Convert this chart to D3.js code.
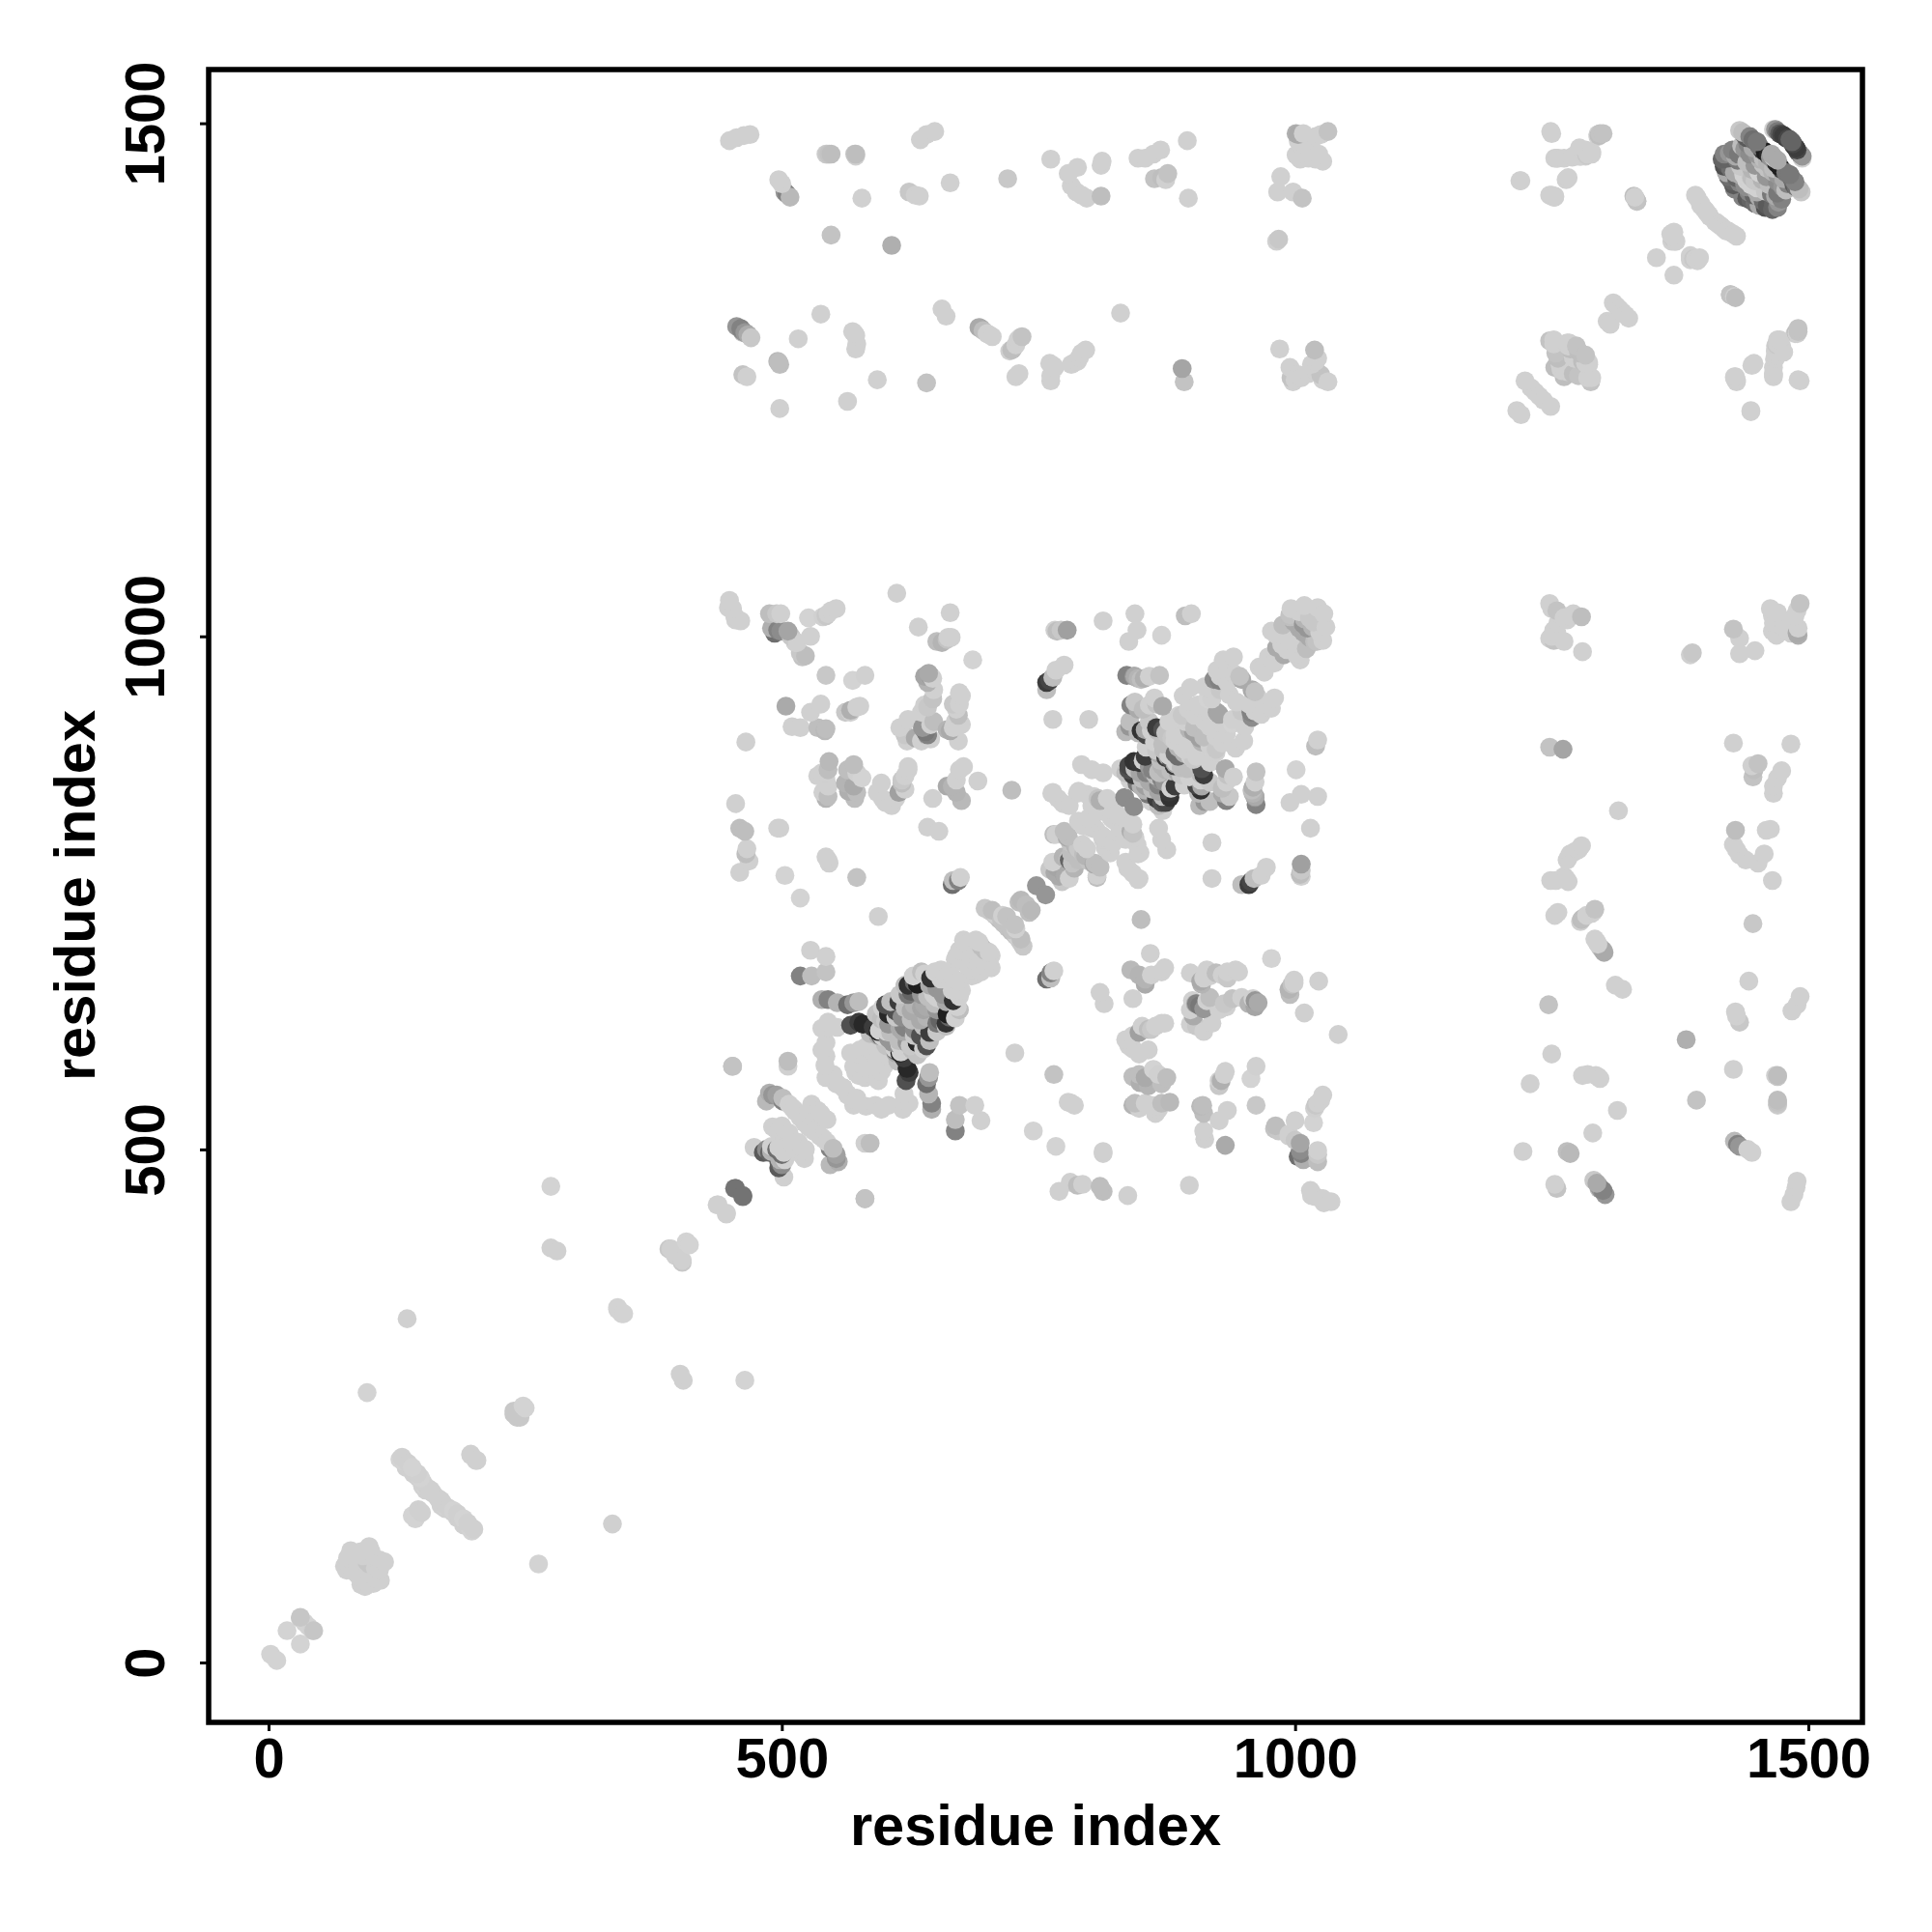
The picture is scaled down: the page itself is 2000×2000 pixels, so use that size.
<!DOCTYPE html>
<html><head><meta charset="utf-8">
<script src="https://cdn.jsdelivr.net/npm/d3@7"></script>
<style>html,body{margin:0;padding:0;background:#fff}svg{display:block}text{font-family:"Liberation Sans",Arial,sans-serif;font-weight:700;fill:#000}</style>
</head><body><svg id="c" width="2000" height="2000"></svg>
<script>
const xLabel = "residue index", yLabel = "residue index";
const tickValues = [0, 500, 1000, 1500];
const nTerminal = [[2,8,211],[18,31,211],[31,43,208],[35,39,211],[44,31,198],
[74,94,208],[77,102,208],[80,109,208],[84,88,208],[86,100,208],[92,104,208],[98,113,208],[100,108,208],[96,98,198],
[128,198,211],[132,196,211],[136,194,208],[140,190,211],[142,186,208],[145,184,208],[148,180,211],[150,176,208],[152,172,211],[155,170,208],[158,168,208],[160,165,208],[143,140,211],[146,149,208],
[197,203,208],[202,197,208],[239,242,200],[245,239,200],[248,250,211],[275,464,211],[135,335,208],[96,263,211],
[275,404,208],[281,401,208],[340,344,211],[346,340,211],[390,403,200],[396,397,208],[403,392,208],[410,407,211],[437,446,208],[446,438,208],[455,462,115],[462,454,120],
[130,200,208],[134,190,208],[141,184,208],[146,180,208],[150,172,208],[153,168,208],[78,95,208],[82,104,208],[90,108,208],[94,90,208],[76,90,208]];
const blockLeft = [[449,1035,208],[452,1027,208],[455,1016,208],[460,1015,208],[495,1022,200],[499,1022,208],[496,1006,130],[499,1005,140],[506,1005,165],[526,1018,211],[543,1020,200],[548,1025,208],[553,1027,208],[515,994,208],[528,1000,208],[520,980,195],[612,1042,208],[633,1009,208],[664,1023,208],[656,994,180],[661,997,195],[665,999,208],[686,977,211],
[543,962,200],[569,957,211],[581,962,208],[643,964,170],[645,961,150],[647,959,208],[647,939,195],[673,945,208],[673,934,208],[504,932,170],[528,926,208],[538,934,208],[518,911,208],[543,910,190],[567,926,208],[576,932,208],[465,897,208],[623,919,208],[620,904,200],[636,898,208],[642,903,170],[640,907,120],[645,914,208],[661,909,180],[667,911,208],[675,914,208],[672,898,208],[639,933,208],
[546,878,185],[542,867,208],[545,854,208],[545,844,190],[570,875,190],[570,854,170],[578,862,211],[571,842,190],[597,857,208],[598,842,208],[607,835,208],[620,851,208],[623,870,208],[614,848,160],[617,860,200],[673,870,208],[666,854,180],[691,859,208],[675,840,185],[647,842,208],[724,850,190],
[455,837,208],[464,810,190],[498,813,208],[465,788,190],[468,781,208],[459,770,208],[503,767,211],[545,782,208],[573,765,195],[518,745,211],[594,727,208],[642,814,208],[653,810,208],[672,762,130],[674,765,208]];
const blockLeftExtra = [[448,1028,208],[454,1020,208],[488,1022,190],[490,1008,175],[493,1003,110],[509,1000,200],[513,994,208],[518,984,200],[523,981,190],[540,1019,208],[545,1022,208],[651,995,190],[662,999,208],[768,1005,190],
[639,961,165],[642,955,180],[648,948,208],[636,926,208],[642,931,200],[637,911,150],[642,904,130],[645,900,208],[648,917,190],[670,929,208],[672,923,190],[667,934,200],[669,917,208],[664,908,170],[675,942,208],[615,911,208],[622,898,208],[630,901,170],
[539,867,208],[543,860,208],[540,848,208],[535,864,208],[545,870,190],[543,842,180],[564,870,190],[562,857,180],[565,849,175],[573,867,208],[573,848,190],[593,848,208],[601,838,208],[611,842,208],[617,857,190],[620,864,208],[623,873,208],[661,854,170],[670,860,208],[670,848,180],[677,873,208],
[496,813,208],[459,813,190],[466,793,208],[543,785,208],[546,779,208],[667,762,190],[666,758,110],[567,928,175],[573,931,208],[562,926,200],[535,911,190],[542,908,185],[510,912,208]];
const blockCross = [[766,1006,208],[772,1006,200],[778,1006,160],[813,1015,208],[844,1022,208],[838,995,208],[846,1006,208],[870,1001,211],[893,1020,190],[899,1022,208],
[758,955,60],[761,957,70],[764,960,190],[767,967,208],[775,972,208],[758,948,190],[764,919,208],[799,919,208],
[836,962,130],[843,961,150],[847,959,180],[853,959,175],[868,962,195],[840,933,130],[847,929,170],[863,940,208],[871,932,170],[891,942,208],[898,950,208],[839,912,150],[850,908,50],[855,904,70],[865,911,60],[871,909,80],[858,917,200],
[890,923,200],[902,923,208],[897,909,180],[907,901,160],[924,926,165],[915,939,211],[921,958,140],[934,970,208],[927,948,200],[948,958,170],[936,943,208],[926,957,130],[968,969,208],[982,989,170],[981,1002,208],[999,1014,170],[1008,1012,150],[1022,1028,208],[1004,1024,208],[995,1021,195],[983,1003,208],[995,1019,190],[880,901,200],[893,917,208],[883,898,208],[890,892,208],
[830,871,208],[792,875,208],[802,870,208],[813,867,208],[835,867,190],[838,874,70],[843,878,50],[848,877,55],[854,883,60],[838,870,80],[842,865,60],[846,857,120],[855,867,130],[860,868,140],[867,886,170],[874,882,60],[865,889,200],[880,879,80],[861,870,130],[850,854,180],[834,843,140],[858,859,170],[871,895,190],[883,886,110],[886,892,180],
[764,848,208],[774,837,208],[789,849,208],[808,842,195],[814,829,208],[821,823,208],[794,815,208],[802,813,208],[767,807,208],[778,804,170],[786,796,180],[794,788,190],[780,782,100],[767,776,170],[775,768,165],[783,779,195],[779,805,190],[765,807,190],[796,816,208],[810,840,175],[804,844,208],[788,847,208],[763,847,208]];
const blockCrossExtra = [[844,871,190],[852,879,208],[858,873,150],[865,864,190],[849,867,165],[839,860,208],[855,854,160],[861,851,190],[869,879,190],[877,884,208],[883,876,170],[874,870,180],[868,867,190],[855,892,208],[863,897,208],[872,889,190],
[847,906,185],[854,909,170],[860,908,208],[866,908,190],[874,906,195],[844,936,200],[852,929,190],[858,933,208],[865,934,195],[835,907,185],[839,917,190],[844,961,170],[850,958,190],[858,961,208],
[877,917,208],[887,923,208],[896,929,208],[905,933,208],[915,929,208],[883,904,208],[893,901,208],[902,911,190],[912,917,208],[919,939,208],[912,951,208],[918,948,208],[927,961,208],[924,967,208],[934,955,208],[940,964,208],[946,961,195],[930,977,208],[940,980,208],[965,970,208],[974,980,208],[977,1005,208],[987,992,208],[993,999,208],[988,1011,190],[996,1027,208],[1009,1030,208],[1018,1014,200],[1004,1008,170],[1009,1017,180],
[769,842,208],[780,835,208],[797,846,208],[802,835,208],[808,829,208],[817,842,208],[824,832,208],[830,823,208],[799,823,208],[806,812,208],[814,804,208],[789,820,208],[775,810,190],[781,799,195],[789,793,200],[797,793,208],[774,785,180],[789,782,190],[764,780,208],[761,773,200],[770,766,170]];
const midBand = [[748,757,150],[733,743,185],[738,738,190],[703,732,200],[708,728,195],[712,724,190],[716,720,195],[670,688,208],[680,700,208],[689,704,208],[680,692,208],[675,685,208],[685,695,208],[694,698,190],
[708,729,208],[714,724,195],[705,733,190],[698,735,200],[719,727,195],[728,715,208],[677,704,208],[684,702,208],[692,702,208],[673,694,208],[669,685,208],[686,685,208],[677,682,208],[661,669,208],[667,666,208],[655,675,208],[698,688,208],[731,741,190]];
const crossLow = [[528,694,208],[543,688,208],[518,669,130],[529,669,190],[543,673,195],[539,646,175],[545,646,130],[554,643,180],[564,641,110],[570,643,150],[575,644,190],[546,619,208],[567,621,80],[575,624,60],[579,622,40],[589,619,60],[597,627,190],
[604,632,70],[614,644,60],[623,660,50],[632,661,30],[629,663,100],[636,651,150],[645,667,50],[649,673,208],[651,657,150],[639,641,170],[629,641,180],[617,629,140],[611,635,80],[604,622,150],[620,619,130],[604,632,40],[594,615,30],[626,654,100],[642,649,190],[655,666,208],[664,672,208],[636,673,190],[623,651,120],[601,641,80],
[543,591,208],[543,604,208],[567,594,208],[576,597,208],[589,594,208],[574,579,208],[543,570,208],[554,564,208],[570,581,208],[506,586,190],[506,581,208],[452,581,190],[611,596,100],
[495,553,160],[501,547,130],[510,541,208],[523,528,208],[532,538,208],[539,512,208],[488,497,100],[495,500,110],[473,502,208],[495,519,208],[504,512,208],[490,502,175],[500,513,208],[494,521,208],[581,452,195]];
const crossLowExtra = [[592,632,195],[598,638,208],[606,644,190],[615,651,200],[620,660,190],[628,669,208],[639,671,208],[644,660,170],[648,651,208],[655,647,208],[636,638,165],[626,635,170],[620,638,190],[611,629,200],[601,625,200],[595,616,208],[586,613,190],[598,610,208],[606,614,190],[615,618,170],[626,627,190],[592,602,208],[601,602,195],[608,604,150],[615,602,208],[611,594,170],
[539,618,208],[545,624,208],[554,619,208],[539,597,208],[542,582,208],[548,572,208],[582,600,208],[592,591,208],[592,578,208],[579,582,208],[575,572,208],[564,553,208],[560,560,208],[573,550,208],
[485,547,185],[491,553,150],[488,555,175],[501,550,190],[507,544,208],[513,537,208],[518,531,208],[529,544,208],[535,538,208],[526,522,208],[532,519,208],[491,522,208],[498,519,208],[507,516,208],[510,506,208],[490,503,208],[485,500,140],[518,503,208],[523,500,208],[502,497,208],[498,490,180],[482,497,90]];
const topRows = [[449,1483,208],[456,1486,208],[463,1488,208],[469,1489,208],[497,1445,208],[503,1433,150],[508,1428,185],[505,1431,130],[544,1470,200],[546,1470,195],[572,1470,190],[572,1468,208],[578,1427,208],[548,1391,195],[607,1381,175],[624,1433,200],[630,1430,208],[634,1429,208],[664,1442,208],[635,1484,208],[641,1489,208],[649,1492,208],[720,1446,200],[762,1465,208],[779,1451,208],[788,1457,208],[782,1439,208],[792,1430,208],[797,1427,208],[787,1433,208],[812,1463,208],[811,1459,208],[811,1429,190],[847,1466,208],[854,1466,208],[862,1470,208],[869,1474,208],[863,1446,195],[870,1447,190],[876,1451,195],[874,1445,208],[895,1483,208],[896,1427,208],
[1001,1490,175],[1003,1483,208],[1001,1469,208],[1010,1475,208],[1020,1487,208],[1025,1489,208],[1032,1492,195],[1013,1466,208],[1020,1465,208],[1027,1463,208],[1008,1490,208],[986,1448,208],[983,1433,208],[998,1433,208],[1007,1427,195],[982,1385,208],[984,1387,200],
[1220,1444,208],[1250,1490,208],[1253,1466,208],[1262,1466,208],[1274,1468,208],[1284,1469,200],[1289,1470,208],[1253,1429,208],[1248,1430,208],[1265,1446,208],[1295,1489,208],[1300,1490,195],[1330,1429,190],[1333,1424,190],
[456,1302,150],[461,1298,140],[467,1294,170],[470,1291,200],[516,1290,208],[538,1314,208],[462,1255,195],[466,1253,208],[497,1267,190],[498,1265,190],[498,1222,208],[571,1295,208],[572,1280,208],[569,1297,208],[593,1250,208],[564,1229,208],[641,1247,195],[656,1319,208],[660,1312,208],[692,1301,170],[696,1298,190],[700,1295,208],[705,1292,208],[734,1292,195],[730,1289,208],[725,1280,190],[722,1278,208],[761,1266,208],[766,1262,208],[762,1249,208],[728,1253,208],[731,1256,208],[782,1265,208],[788,1268,208],[796,1279,208],[792,1276,208],[830,1315,208],[890,1261,165],[892,1248,195],[985,1280,208],
[995,1262,208],[998,1248,208],[1006,1252,208],[1016,1265,208],[1019,1279,190],[1022,1271,208],[1025,1255,195],[1032,1248,208],[996,1252,195],[1013,1256,208],
[500,1441,208],[543,1470,208],[548,1470,190],[571,1470,200],[1003,1489,170],[1005,1480,208],[1012,1478,208],[1015,1470,208],[1018,1472,208],[1023,1470,208],[1005,1465,208],[1256,1466,208],[1270,1467,208],[1278,1468,208],[1250,1429,208],[1252,1428,208],[460,1300,130],[464,1296,150],[462,1296,190],[496,1268,185],[572,1293,208],[573,1285,208],[694,1300,170],[702,1294,208],[732,1291,208],[728,1284,208],[724,1279,190],[764,1264,208],[790,1272,208],[784,1266,208],[762,1254,208],[1000,1250,208],[1003,1255,208],[1018,1262,208],[1020,1268,208],[1021,1258,208],[1027,1250,208]];
const topRight = [[1216,1220,208],[1224,1249,208],[1230,1242,208],[1234,1238,208],[1248,1288,195],[1256,1271,190],[1260,1259,208],[1265,1286,208],[1274,1283,195],[1280,1268,190],[1286,1267,208],[1289,1252,208],[1262,1253,190],[1272,1271,208],[1304,1307,208],[1310,1325,208],[1313,1322,208],[1319,1316,208],
[1352,1369,208],[1368,1388,200],[1371,1385,208],[1385,1367,208],[1394,1369,208],[1392,1427,208],[1395,1422,208],[1398,1417,208],[1401,1413,208],[1404,1409,208],
[1424,1333,195],[1428,1331,208],[1428,1253,208],[1430,1250,208],[1447,1266,208],[1445,1264,208],[1444,1219,208],[1468,1283,208],[1472,1289,208],[1468,1271,208],[1466,1255,208],[1476,1277,208],[1490,1297,195],[1487,1295,208],[1492,1249,208],
[1252,1285,208],[1254,1276,195],[1258,1265,208],[1276,1278,190],[1283,1266,208],[1426,1332,195],[1470,1285,208],[1474,1283,208],[1488,1296,190],[1468,1278,208],[1395,1420,208],[1390,1430,208],[1400,1415,208],[1403,1411,208],[1370,1385,208],[1366,1392,208],[1390,1368,208]];
const cornerCluster = [[1418,1470,130],[1420,1460,90],[1421,1466,100],[1420,1452,170],[1423,1471,150],[1424,1456,110],[1426,1474,130],[1427,1440,90],[1428,1452,170],[1430,1447,100],[1431,1464,120],[1433,1493,200],[1433,1442,130],[1434,1458,200],[1436,1491,190],[1437,1450,210],[1438,1488,110],[1440,1486,90],[1440,1444,210],[1440,1462,190],[1443,1487,130],[1443,1470,140],[1445,1455,180],[1446,1484,110],[1448,1459,150],[1452,1478,120],[1455,1474,60],[1458,1472,30],[1461,1469,40],[1463,1467,150],[1470,1492,120],[1472,1490,90],[1474,1489,70],[1476,1488,60],[1478,1486,60],[1480,1485,70],
[1416,1465,100],[1418,1458,80],[1422,1448,110],[1425,1444,100],[1428,1436,130],[1432,1470,120],[1429,1468,170],[1435,1478,190],[1438,1475,150],[1441,1480,130],[1446,1476,170],[1450,1482,120],[1450,1470,150],[1453,1465,180],[1456,1460,195],[1447,1445,190],[1452,1452,210],[1438,1440,140],[1433,1450,170],[1444,1448,200],[1456,1466,190],[1460,1462,180],[1464,1470,170],[1467,1466,190],[1466,1494,208],[1468,1494,150],[1482,1484,100]];
const contactGroups = [nTerminal, blockLeft, blockLeftExtra, blockCross, blockCrossExtra, midBand, crossLow, crossLowExtra, topRows, topRight, cornerCluster];

const x = d3.scaleLinear().domain([0,1500]).range([278,1872]);
const y = d3.scaleLinear().domain([0,1500]).range([1721,127.6]);
const svg = d3.select("#c");
const contacts = [];
contactGroups.forEach(g => g.forEach(([i,j,s]) => { contacts.push([i,j,s]); contacts.push([j,i,s]); }));
contacts.sort((a,b) => (a[0]+a[1])-(b[0]+b[1]) || a[0]-b[0]);
svg.append("g").selectAll("circle").data(contacts).join("circle")
  .attr("cx", d=>x(d[0])).attr("cy", d=>y(d[1])).attr("r", 9.8)
  .attr("fill", d=>`rgb(${d[2]},${d[2]},${d[2]})`);
svg.append("rect").attr("x",216).attr("y",72).attr("width",1712).attr("height",1711)
  .attr("fill","none").attr("stroke","#000").attr("stroke-width",5.5);
const fmt = d3.format("d");
const xa = svg.append("g").attr("transform","translate(0,1783)")
  .call(d3.axisBottom(x).tickValues(tickValues).tickFormat(fmt).tickSize(9).tickSizeOuter(0));
const ya = svg.append("g").attr("transform","translate(216,0)")
  .call(d3.axisLeft(y).tickValues(tickValues).tickFormat(fmt).tickSize(9).tickSizeOuter(0));
[xa,ya].forEach(a=>{a.select(".domain").remove();a.selectAll("line").attr("stroke","#000").attr("stroke-width",3);a.selectAll("text").style("font-size","58px").attr("fill","#000");});
xa.selectAll("text").attr("dy",null).attr("text-anchor","middle").attr("y",57);
ya.selectAll("text").attr("dy",null).attr("text-anchor","middle").attr("x",0).attr("y",0)
  .attr("transform","translate(-46,0) rotate(-90)");
svg.append("text").attr("x",1072).attr("y",1910).attr("text-anchor","middle").style("font-size","59.6px").text(xLabel);
svg.append("text").attr("transform","translate(98,927) rotate(-90)").attr("text-anchor","middle").style("font-size","59.6px").text(yLabel);
</script></body></html>
